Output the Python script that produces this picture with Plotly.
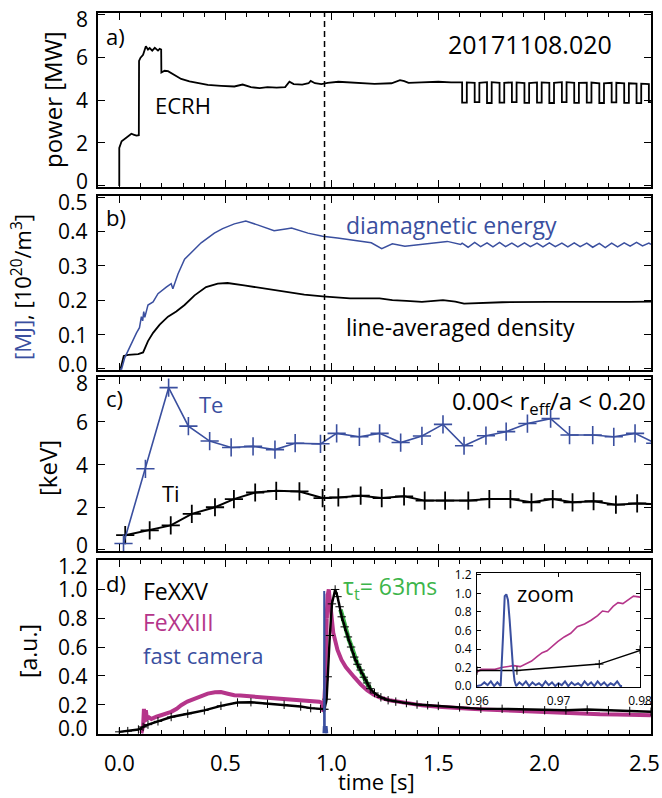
import plotly.graph_objects as go

BLUE = "#3a4f9f"
MAGENTA = "#b5358a"
GREEN = "#3db54a"
FONT = "Open Sans"

# ---------------- a) ECRH power [MW] ----------------
power_t = [0.0, 0.0, 0.011, 0.025, 0.042, 0.057, 0.07, 0.081, 0.092, 0.093, 0.1, 0.112, 0.125,
           0.135, 0.143, 0.155, 0.167, 0.182, 0.19, 0.197, 0.198, 0.213, 0.229, 0.245, 0.26,
           0.291, 0.33, 0.369, 0.416, 0.479, 0.541, 0.58, 0.619, 0.66, 0.697, 0.74, 0.78, 0.8,
           0.82, 0.86, 0.89, 0.9, 0.92, 0.95, 0.98, 1.03, 1.09, 1.12, 1.2, 1.28, 1.32, 1.34,
           1.36, 1.42, 1.5, 1.56, 1.605]
power_v = [0.0, 1.77, 2.08, 2.2, 2.31, 2.43, 2.38, 2.34, 2.36, 5.82, 5.97, 6.1, 6.5, 6.35,
           6.42, 6.3, 6.43, 6.3, 6.38, 6.35, 5.28, 5.36, 5.34, 5.25, 5.13, 4.98, 4.87, 4.78,
           4.7, 4.66, 4.63, 4.72, 4.6, 4.55, 4.6, 4.58, 4.6, 4.85, 4.74, 4.72, 4.78, 4.89,
           4.78, 4.74, 4.8, 4.85, 4.82, 4.77, 4.75, 4.78, 4.92, 4.88, 4.8, 4.82, 4.85, 4.82, 4.8]
# power modulation: start of each dip, its length and the levels
mod_dip_start = [1.612, 1.671, 1.729, 1.788, 1.846, 1.905, 1.964, 2.022, 2.081, 2.139,
                 2.198, 2.257, 2.315, 2.374, 2.432, 2.49]
mod_dip_len = 0.022
mod_high = [4.82, 4.8, 4.83, 4.8, 4.82, 4.79, 4.82, 4.8, 4.83, 4.8, 4.81, 4.78, 4.8, 4.78, 4.76, 4.74]
mod_low = [3.88, 3.9, 3.86, 3.88, 3.9, 3.87, 3.88, 3.86, 3.9, 3.87, 3.88, 3.86, 3.89, 3.87, 3.85, 3.9]

# ---------------- b) diamagnetic energy [MJ] and density ----------------
wdia_t = [0.0, 0.011, 0.026, 0.057, 0.081, 0.095, 0.104, 0.11, 0.115, 0.12, 0.135, 0.159,
          0.182, 0.221, 0.244, 0.252, 0.276, 0.307, 0.338, 0.385, 0.447, 0.486, 0.541, 0.595,
          0.65, 0.728, 0.79, 0.81, 0.887, 0.956, 1.026, 1.125, 1.185, 1.234, 1.284, 1.343,
          1.423, 1.542, 1.605,
          1.612, 1.64, 1.671, 1.699, 1.729, 1.757, 1.788, 1.816, 1.846, 1.874, 1.905, 1.933,
          1.964, 1.992, 2.022, 2.05, 2.081, 2.109, 2.139, 2.167, 2.198, 2.226, 2.257, 2.285,
          2.315, 2.343, 2.374, 2.402, 2.432, 2.46, 2.49, 2.5]
wdia_v = [0.0, 0.0, 0.033, 0.076, 0.105, 0.12, 0.152, 0.14, 0.167, 0.15, 0.186, 0.195,
          0.219, 0.238, 0.248, 0.233, 0.276, 0.319, 0.338, 0.367, 0.395, 0.408, 0.422, 0.43,
          0.419, 0.402, 0.408, 0.41, 0.395, 0.386, 0.381, 0.373, 0.367, 0.35, 0.364, 0.357,
          0.362, 0.371, 0.362,
          0.366, 0.354, 0.368, 0.356, 0.367, 0.355, 0.368, 0.356, 0.366, 0.355, 0.367, 0.356,
          0.366, 0.355, 0.367, 0.356, 0.366, 0.355, 0.367, 0.356, 0.366, 0.354, 0.365, 0.353,
          0.366, 0.355, 0.367, 0.357, 0.368, 0.358, 0.366, 0.362]
ne_t = [0.0, 0.006, 0.021, 0.042, 0.089, 0.112, 0.135, 0.159, 0.19, 0.229, 0.268, 0.307,
        0.354, 0.408, 0.463, 0.509, 0.587, 0.697, 0.79, 0.87, 0.956, 1.085, 1.224, 1.284,
        1.35, 1.423, 1.522, 1.58, 1.621, 1.8, 2.018, 2.2, 2.4, 2.5]
ne_v = [0.0, 0.0, 0.038, 0.041, 0.043, 0.048, 0.081, 0.105, 0.129, 0.152, 0.167, 0.186,
        0.214, 0.238, 0.248, 0.25, 0.243, 0.233, 0.224, 0.216, 0.211, 0.205, 0.205, 0.2,
        0.198, 0.195, 0.2, 0.196, 0.19, 0.194, 0.195, 0.194, 0.195, 0.196]

# ---------------- c) central temperatures [keV] ----------------
te_t = [0.02, 0.123, 0.232, 0.325, 0.425, 0.526, 0.629, 0.732, 0.827, 0.946, 1.022, 1.129,
        1.224, 1.323, 1.423, 1.522, 1.621, 1.724, 1.819, 1.919, 2.028, 2.117, 2.226, 2.325,
        2.425, 2.52]
te_v = [0.3, 3.8, 7.6, 5.8, 5.1, 4.8, 4.85, 4.7, 5.0, 4.97, 5.46, 5.3, 5.46, 5.03, 5.34,
        5.88, 4.88, 5.35, 5.54, 5.92, 6.15, 5.38, 5.38, 5.3, 5.46, 5.0]
ti_t = [0.028, 0.143, 0.242, 0.341, 0.45, 0.539, 0.639, 0.738, 0.847, 0.956, 1.03, 1.135,
        1.234, 1.339, 1.436, 1.532, 1.641, 1.74, 1.839, 1.938, 2.038, 2.131, 2.23, 2.335,
        2.435, 2.52]
ti_v = [0.69, 0.92, 1.15, 1.69, 2.0, 2.38, 2.69, 2.77, 2.74, 2.43, 2.46, 2.54, 2.43, 2.51,
        2.31, 2.31, 2.31, 2.38, 2.38, 2.23, 2.38, 2.23, 2.28, 2.12, 2.18, 2.15]

# ---------------- d) normalised line emission and fast camera [a.u.] ----------------
fe25_t = [0.0, 0.04, 0.09, 0.112, 0.135, 0.182, 0.244, 0.322, 0.4, 0.478, 0.556, 0.619,
          0.697, 0.775, 0.853, 0.9, 0.946, 0.96, 0.9649, 0.975, 0.98, 0.99, 1.0, 1.015,
          1.026, 1.036, 1.046, 1.06, 1.075, 1.09, 1.105, 1.12, 1.135, 1.15, 1.165, 1.18,
          1.2, 1.23, 1.264, 1.3, 1.35, 1.4, 1.45, 1.5, 1.6, 1.7, 1.8, 1.9, 2.0, 2.1, 2.2,
          2.3, 2.4, 2.5]
fe25_v = [0.01, 0.015, 0.026, 0.044, 0.06, 0.083, 0.113, 0.136, 0.159, 0.191, 0.214, 0.216,
          0.205, 0.198, 0.186, 0.175, 0.17, 0.167, 0.167, 0.237, 0.393, 0.68, 0.9, 1.0,
          0.95, 0.88, 0.81, 0.74, 0.67, 0.6, 0.53, 0.48, 0.44, 0.39, 0.35, 0.31, 0.28, 0.25,
          0.23, 0.22, 0.21, 0.2, 0.195, 0.19, 0.18, 0.17, 0.17, 0.165, 0.16, 0.16, 0.165,
          0.16, 0.155, 0.15]

fe23_t = [0.104, 0.112, 0.116, 0.12, 0.125, 0.13, 0.14, 0.151, 0.175, 0.198, 0.22, 0.244,
          0.27, 0.291, 0.32, 0.354, 0.385, 0.416, 0.45, 0.478, 0.51, 0.541, 0.57, 0.603,
          0.635, 0.666, 0.7, 0.728, 0.76, 0.791, 0.82, 0.853, 0.885, 0.915, 0.94, 0.955,
          # onset of the radiation peak
          0.96, 0.9605, 0.9614, 0.9622, 0.963, 0.9636, 0.9645, 0.9653, 0.9661, 0.9667,
          0.9674, 0.968, 0.9686, 0.9692, 0.9699, 0.9707, 0.9715, 0.9723, 0.9732, 0.974,
          0.9748, 0.9754, 0.9761, 0.9767, 0.9773, 0.9779, 0.9785, 0.9792, 0.98,
          # decay
          0.985, 0.995, 1.006, 1.026, 1.045, 1.065, 1.085, 1.105, 1.135, 1.165, 1.195,
          1.224, 1.27, 1.323, 1.37, 1.423, 1.5, 1.562, 1.65, 1.718, 1.8, 1.874, 1.95,
          2.03, 2.1, 2.186, 2.26, 2.342, 2.42, 2.5]
fe23_v = [0.0, 0.05, 0.17, 0.08, 0.16, 0.1, 0.11, 0.1, 0.115, 0.126, 0.14, 0.149, 0.17,
          0.195, 0.22, 0.241, 0.26, 0.276, 0.285, 0.287, 0.275, 0.264, 0.262, 0.258, 0.252,
          0.248, 0.244, 0.241, 0.237, 0.234, 0.23, 0.225, 0.224, 0.223, 0.22, 0.211,
          0.15, 0.18, 0.18, 0.18, 0.2, 0.21, 0.22, 0.21, 0.24, 0.27, 0.32, 0.36, 0.38,
          0.43, 0.48, 0.53, 0.57, 0.64, 0.67, 0.71, 0.76, 0.81, 0.8, 0.86, 0.9, 0.89, 0.93,
          0.97, 0.96,
          1.0, 0.84, 0.70, 0.58, 0.51, 0.46, 0.42, 0.39, 0.34, 0.30, 0.27, 0.25, 0.23,
          0.217, 0.2, 0.194, 0.185, 0.177, 0.17, 0.166, 0.16, 0.154, 0.15, 0.145, 0.14,
          0.136, 0.132, 0.13, 0.128, 0.126]

cam_t = [0.9600, 0.9605, 0.9609, 0.9613, 0.9617, 0.9621, 0.9625, 0.9629, 0.9632, 0.9634,
         0.9636, 0.9638, 0.9640, 0.9642, 0.9644, 0.9646, 0.9648, 0.9652, 0.9656, 0.9660,
         0.9664, 0.9668, 0.9672, 0.9676, 0.9680, 0.9684, 0.9688, 0.9692, 0.9696, 0.9700,
         0.9704, 0.9708, 0.9712, 0.9716, 0.9720, 0.9724, 0.9728, 0.9732, 0.9736, 0.9740,
         0.9744, 0.9748, 0.9752, 0.9756, 0.9760, 0.9764, 0.9768, 0.9772, 0.9776, 0.9778]
cam_v = [0.00, 0.01, 0.04, 0.01, 0.05, 0.00, 0.04, 0.00, 0.55, 0.97, 0.99, 0.93, 0.72,
         0.45, 0.22, 0.06, 0.00, 0.04, 0.01, 0.05, 0.00, 0.04, 0.01, 0.03, 0.00, 0.05,
         0.01, 0.04, 0.00, 0.03, 0.01, 0.05, 0.00, 0.04, 0.01, 0.03, 0.00, 0.05, 0.01,
         0.04, 0.00, 0.05, 0.01, 0.04, 0.00, 0.03, 0.01, 0.05, 0.00, 0.00]

# exponential decay fit (tau = 63 ms)
fit_t = [1.04, 1.05, 1.06, 1.07, 1.08, 1.09, 1.10, 1.11, 1.12, 1.13, 1.14, 1.15, 1.16, 1.17, 1.18]
fit_v = [0.86, 0.8, 0.75, 0.7, 0.65, 0.61, 0.56, 0.515, 0.48, 0.45, 0.41, 0.39, 0.36, 0.33, 0.31]

T_DISRUPT = 0.965

# tick values
ticks_time = [0.0, 0.5, 1.0, 1.5, 2.0, 2.5]
ticks_a = [0, 2, 4, 6, 8]
ticks_b = [0.0, 0.1, 0.2, 0.3, 0.4, 0.5]
ticks_c = [0, 2, 4, 6, 8]
ticks_d = [0.0, 0.2, 0.4, 0.6, 0.8, 1.0, 1.2]

# ---------------- geometry ----------------
L, R, T, B = 98, 11, 13, 64
W, H = 662, 798
PW, PH = W - L - R, H - T - B
XR = [-0.1, 2.5]


def px(x):
    return (x - L) / PW


def py(y):
    return (H - B - y) / PH


# panel frames in pixels (top, bottom) and value ranges
frames = {"a": (13, 187), "b": (196, 370), "c": (377, 551), "d": (560, 734)}
ranges = {"a": [-0.05, 8.05], "b": [-0.003, 0.503], "c": [-0.05, 8.1], "d": [-0.005, 1.205]}

# ---------------- build figure ----------------
fig = go.Figure()

pt, pv = list(power_t), list(power_v)
for s, hi, lo in zip(mod_dip_start, mod_high, mod_low):
    pt += [s, s, s + mod_dip_len, s + mod_dip_len]
    pv += [hi, lo, lo, hi]


def line(x, y, xa, ya, color, width, **kw):
    fig.add_trace(go.Scatter(x=x, y=y, xaxis=xa, yaxis=ya, mode=kw.pop("mode", "lines"),
                             line=dict(color=color, width=width), showlegend=False,
                             hoverinfo="skip", **kw))


line(pt, pv, "x", "y", "black", 1.8)

line(ne_t, ne_v, "x2", "y2", "black", 1.8)
line(wdia_t, wdia_v, "x2", "y2", BLUE, 1.5)

plus = dict(symbol="cross-thin", size=13)
line(ti_t, ti_v, "x3", "y3", "black", 2, mode="lines+markers",
     marker=dict(plus, color="black", line=dict(width=1.8, color="black")))
line(te_t, te_v, "x3", "y3", BLUE, 1.6, mode="lines+markers",
     marker=dict(plus, color=BLUE, line=dict(width=1.6, color=BLUE)))

small_plus = dict(symbol="cross-thin", size=6, color="black", line=dict(width=1, color="black"))
# main panel d
line(fe23_t, fe23_v, "x4", "y4", MAGENTA, 4)
line(fit_t, fit_v, "x4", "y4", GREEN, 4.5)
line(fe25_t, fe25_v, "x4", "y4", "black", 2.4, mode="lines+markers", marker=small_plus)
line(cam_t, cam_v, "x4", "y4", BLUE, 2)
# zoomed inset
line(fe23_t, fe23_v, "x5", "y5", MAGENTA, 1.6)
line(fe25_t, fe25_v, "x5", "y5", "black", 1.5, mode="lines+markers", marker=small_plus)
line(cam_t, cam_v, "x5", "y5", BLUE, 2)

# ---------------- axes ----------------
base = dict(showline=True, linecolor="black", linewidth=1.5, mirror="ticks", ticks="inside",
            ticklen=7, tickwidth=1.3, tickcolor="black", showgrid=False, zeroline=False,
            automargin=False)
xbase = dict(base, range=XR, tickmode="array", tickvals=ticks_time, showticklabels=False,
             minor=dict(tickmode="linear", tick0=0, dtick=0.1, ticks="inside", ticklen=4,
                        tickwidth=1, tickcolor="black"))


def ybase(key, ticks):
    top, bot = frames[key]
    return dict(base, domain=[py(bot), py(top)], range=ranges[key], tickmode="array",
                tickvals=ticks, showticklabels=False)


inset_font = dict(family=FONT, size=12, color="black")
fig.update_layout(
    width=W, height=H, autosize=False, margin=dict(l=L, r=R, t=T, b=B, pad=0),
    paper_bgcolor="white", plot_bgcolor="white",
    font=dict(family=FONT, size=21, color="black"),
    xaxis=dict(xbase, anchor="y"),
    xaxis2=dict(xbase, anchor="y2"),
    xaxis3=dict(xbase, anchor="y3"),
    xaxis4=dict(xbase, anchor="y4"),
    yaxis=dict(ybase("a", ticks_a), anchor="x"),
    yaxis2=dict(ybase("b", ticks_b), anchor="x2"),
    yaxis3=dict(ybase("c", ticks_c), anchor="x3"),
    yaxis4=dict(ybase("d", ticks_d), anchor="x4"),
    xaxis5=dict(base, domain=[px(477), px(640)], anchor="y5", range=[0.96, 0.98],
                tickmode="array", tickvals=[0.96, 0.97, 0.98], ticktext=["0.96", "0.97", "0.98"],
                ticklen=4, linewidth=1.2, tickfont=inset_font, ticklabelstandoff=2),
    yaxis5=dict(base, domain=[py(687), py(573)], anchor="x5", range=[-0.01, 1.22],
                tickmode="linear", tick0=0, dtick=0.2, tickformat=".1f", ticklen=4,
                linewidth=1.2, tickfont=inset_font, ticklabelstandoff=2),
)

# dashed marker of the event time in panels a-c
for xa, ya in (("x", "y"), ("x2", "y2"), ("x3", "y3")):
    fig.add_shape(type="line", xref=xa, yref=ya + " domain",
                  x0=T_DISRUPT, x1=T_DISRUPT, y0=0, y1=1,
                  line=dict(color="black", width=1.5, dash="6px,4px"))


def text(x, y, s, size=21, color="black", xanchor="left", angle=0):
    fig.add_annotation(x=px(x), y=py(y), xref="paper", yref="paper", text=s, showarrow=False,
                       xanchor=xanchor, yanchor="middle", textangle=angle, borderpad=0,
                       font=dict(family=FONT, size=size, color=color))


# y tick labels of the stacked panels; the end labels sit just inside the frame
for key, ticks, fmt in (("a", ticks_a, "%d"), ("b", ticks_b, "%.1f"),
                        ("c", ticks_c, "%d"), ("d", ticks_d, "%.1f")):
    top, bot = frames[key]
    r0, r1 = ranges[key]
    for v in ticks:
        ypix = bot - (v - r0) / (r1 - r0) * (bot - top)
        if v == ticks[-1]:
            ypix = max(ypix, top + 6)
        elif v == ticks[0]:
            ypix = min(ypix, bot - 6)
        text(89, ypix, fmt % v, 21, xanchor="right")

# time tick labels under the bottom panel; the last one is kept inside the page
for v in ticks_time:
    xpix = L + (v - XR[0]) / (XR[1] - XR[0]) * PW
    if xpix + 16 > W - 1:
        text(W - 1, 762, "%.1f" % v, 22, xanchor="right")
    else:
        text(xpix, 762, "%.1f" % v, 22, xanchor="center")

# panel labels and annotations
text(105, 36, "a)", 22)
text(105, 217, "b)", 22)
text(105, 398, "c)", 22)
text(105, 583, "d)", 22)
text(530, 44, "20171108.020", 25, xanchor="center")
text(183, 105, "ECRH", 22, xanchor="center")
text(451, 225, "diamagnetic energy", 23, BLUE, xanchor="center")
text(460, 327, "line-averaged density", 23, xanchor="center")
text(211, 404, "Te", 22, BLUE, xanchor="center")
text(171, 493, "Ti", 22, xanchor="center")
text(647, 402, "0.00&lt; r<sub>eff</sub>/a &lt; 0.20", 24, xanchor="right")
text(142, 591, "FeXXV", 23)
text(142, 622, "FeXXIII", 23, MAGENTA)
text(142, 655, "fast camera", 22, BLUE)
text(342, 587, "\u03c4<sub>t</sub>= 63ms", 23, GREEN)
text(545, 593, "zoom", 22, xanchor="center")

# axis titles
text(53, 100, "power [MW]", 24, xanchor="center", angle=-90)
text(21, 287, '<span style="color:%s">[MJ]</span>, [10<sup>20</sup>/m<sup>3</sup>]' % BLUE,
     22, xanchor="center", angle=-90)
text(48, 468, "[keV]", 24, xanchor="center", angle=-90)
text(28, 651, "[a.u.]", 23, xanchor="center", angle=-90)
text(376, 781, "time [s]", 22, xanchor="center")

fig.write_html("out.html", config={"responsive": False})
